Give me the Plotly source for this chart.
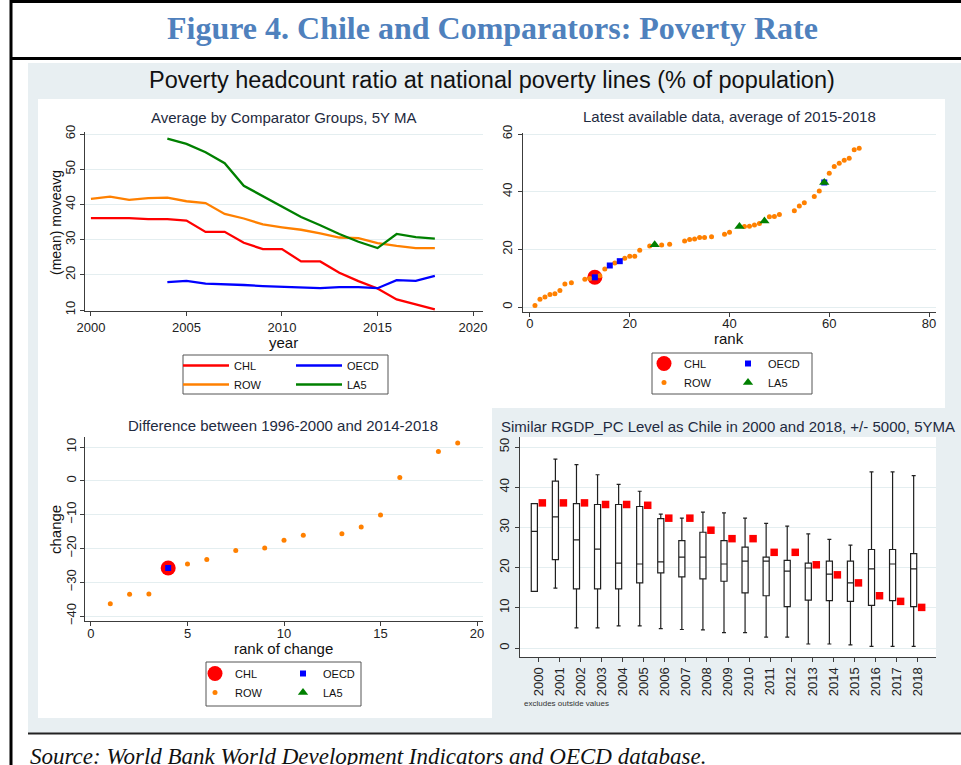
import plotly.graph_objects as go

# ---------------- data ----------------
years = list(range(2000, 2019))
chl_ma = [36.1, 36.1, 36.1, 35.8, 35.8, 35.4, 32.2, 32.2, 29.1, 27.3, 27.3, 23.8, 23.8, 20.6, 18.2, 16.1, 13.0, 11.6, 10.2]
row_ma = [41.6, 42.2, 41.3, 41.8, 41.9, 40.9, 40.4, 37.3, 36.0, 34.3, 33.5, 32.8, 31.8, 30.6, 30.4, 29.0, 28.2, 27.6, 27.6]
years_grp = list(range(2004, 2019))
oecd_ma = [17.9, 18.3, 17.5, 17.4, 17.1, 16.8, 16.6, 16.2, 16.2, 16.5, 16.5, 16.2, 18.5, 18.3, 19.7]
la5_ma = [58.7, 57.2, 54.8, 51.7, 45.3, 42.3, 39.2, 36.4, 34.1, 31.6, 29.4, 27.6, 31.6, 30.7, 30.3]

# latest available data, average 2015-2018
row_rank = [1, 2, 3, 4, 5, 6, 7, 8.3, 11, 12, 14, 15, 17, 19, 20, 21, 22, 24, 26.4, 28, 31, 32, 33, 34, 35,
            36.4, 39, 40, 43, 44, 45, 46, 48, 49, 50, 53, 54, 55, 57, 58, 60, 61, 62, 63, 64, 65, 66]
row_lvl = [0.5, 2.7, 3.5, 4.3, 4.6, 5.7, 8.0, 8.4, 9.6, 9.9, 10.8, 13.2, 15.3, 16.9, 17.6, 17.6, 19.7, 21.2,
           21.5, 21.8, 22.9, 23.4, 23.6, 24.1, 24.1, 24.4, 25.2, 25.9, 27.9, 28.0, 28.4, 29.0, 31.3, 31.4,
           32.1, 33.4, 35.0, 36.2, 38.3, 40.2, 46.4, 48.7, 49.9, 50.9, 51.6, 54.5, 55.1]
chl_rank = [13]
chl_lvl = [10.3]
oecd_rank = [13, 16, 18, 59]
oecd_lvl = [10.3, 14.4, 15.9, 43.2]
la5_rank = [25, 42, 47, 59]
la5_lvl = [21.6, 27.9, 29.8, 43.2]

# difference between 1996-2000 and 2014-2018
chg_row_rank = [1, 2, 3, 5, 6, 7.5, 9, 10, 11, 13, 14, 15, 16, 18, 19]
chg_row_val = [-36.4, -33.6, -33.5, -24.6, -23.3, -20.6, -19.9, -17.6, -16.1, -15.7, -13.7, -10.1, 1.0, 8.7, 11.2]
chg_chl_rank = [4]
chg_chl_val = [-25.8]
chg_oecd_rank = [4]
chg_oecd_val = [-25.8]
chg_la5_rank = [None]   # no LA5 observation in this panel (legend entry only)
chg_la5_val = [None]

# similar RGDP_PC level box plots
box_years = [str(y) for y in range(2000, 2019)]
box_lo = [14.1, 14.9, 5.0, 5.0, 5.5, 5.5, 4.8, 4.6, 4.5, 3.8, 3.8, 2.7, 2.7, 1.0, 1.0, 0.8, 0.4, 0.4, 0.4]
box_q1 = [14.1, 22.0, 14.7, 14.7, 14.7, 16.2, 18.7, 17.7, 17.2, 16.6, 13.7, 13.0, 10.3, 11.9, 11.8, 11.6, 10.6, 11.8, 10.3]
box_med = [29.0, 32.6, 26.9, 24.6, 21.1, 20.9, 21.4, 22.6, 22.6, 20.9, 21.6, 21.6, 19.1, 19.9, 18.4, 16.2, 19.7, 20.9, 19.7]
box_q3 = [35.9, 41.5, 35.9, 35.7, 35.7, 35.2, 32.2, 26.7, 28.8, 26.7, 25.1, 22.6, 21.8, 21.1, 21.6, 21.6, 24.5, 24.5, 23.5]
box_hi = [35.9, 47.0, 45.6, 43.1, 40.7, 39.0, 33.3, 32.3, 33.8, 33.6, 32.3, 31.0, 30.3, 28.4, 27.0, 25.6, 43.8, 43.8, 42.9]
box_chl = [36.1, 36.1, 36.1, 35.7, 35.7, 35.5, 32.3, 32.3, 29.3, 27.2, 27.2, 23.8, 23.8, 20.7, 18.2, 16.2, 13.0, 11.6, 10.1]

# ---------------- styling ----------------
W, H = 961, 765
FONT = "Liberation Sans"
RED, ORANGE, BLUE, GREEN = "#ff0000", "#ff8000", "#0000ff", "#008000"
AX = "#3c3c3c"
GRID = "#e4eef0"
BG = "#e8eff2"
TCOL = "#1e2a40"


def fx(px):
    return px / W


def fy(py):
    return 1 - py / H


fig = go.Figure()

# ---- panel 1: lines ----
fig.add_trace(go.Scatter(x=years, y=chl_ma, mode="lines", name="CHL", line=dict(color=RED, width=2.3),
                         xaxis="x", yaxis="y", legend="legend"))
fig.add_trace(go.Scatter(x=years, y=row_ma, mode="lines", name="ROW", line=dict(color=ORANGE, width=2.3),
                         xaxis="x", yaxis="y", legend="legend"))
fig.add_trace(go.Scatter(x=years_grp, y=oecd_ma, mode="lines", name="OECD", line=dict(color=BLUE, width=2.3),
                         xaxis="x", yaxis="y", legend="legend2"))
fig.add_trace(go.Scatter(x=years_grp, y=la5_ma, mode="lines", name="LA5", line=dict(color=GREEN, width=2.3),
                         xaxis="x", yaxis="y", legend="legend2"))

# ---- panel 2: latest ----
fig.add_trace(go.Scatter(x=chl_rank, y=chl_lvl, mode="markers", name="CHL",
                         marker=dict(color=RED, size=15, symbol="circle"),
                         xaxis="x2", yaxis="y2", legend="legend3"))
fig.add_trace(go.Scatter(x=row_rank, y=row_lvl, mode="markers", name="ROW",
                         marker=dict(color=ORANGE, size=5, symbol="circle"),
                         xaxis="x2", yaxis="y2", legend="legend3"))
fig.add_trace(go.Scatter(x=oecd_rank, y=oecd_lvl, mode="markers", name="OECD",
                         marker=dict(color=BLUE, size=6, symbol="square"),
                         xaxis="x2", yaxis="y2", legend="legend4"))
fig.add_trace(go.Scatter(x=la5_rank, y=la5_lvl, mode="markers", name="LA5",
                         marker=dict(color=GREEN, size=9, symbol="triangle-up"),
                         xaxis="x2", yaxis="y2", legend="legend4"))

# ---- panel 3: change ----
fig.add_trace(go.Scatter(x=chg_chl_rank, y=chg_chl_val, mode="markers", name="CHL",
                         marker=dict(color=RED, size=15, symbol="circle"),
                         xaxis="x3", yaxis="y3", legend="legend5"))
fig.add_trace(go.Scatter(x=chg_row_rank, y=chg_row_val, mode="markers", name="ROW",
                         marker=dict(color=ORANGE, size=5, symbol="circle"),
                         xaxis="x3", yaxis="y3", legend="legend5"))
fig.add_trace(go.Scatter(x=chg_oecd_rank, y=chg_oecd_val, mode="markers", name="OECD",
                         marker=dict(color=BLUE, size=6, symbol="square"),
                         xaxis="x3", yaxis="y3", legend="legend6"))
fig.add_trace(go.Scatter(x=chg_la5_rank, y=chg_la5_val, mode="markers", name="LA5",
                         marker=dict(color=GREEN, size=9, symbol="triangle-up"),
                         xaxis="x3", yaxis="y3", legend="legend6"))

# ---- panel 4: box plots ----
pos = list(range(len(box_years)))
fig.add_trace(go.Box(x=[p - 0.19 for p in pos], q1=box_q1, median=box_med, q3=box_q3,
                     lowerfence=box_lo, upperfence=box_hi, width=0.29, whiskerwidth=0.65,
                     fillcolor="white", line=dict(color="#202020", width=1.2),
                     showlegend=False, xaxis="x4", yaxis="y4", hoverinfo="skip"))
fig.add_trace(go.Scatter(x=[p + 0.19 for p in pos], y=box_chl, mode="markers",
                         marker=dict(color=RED, size=7.5, symbol="square"),
                         showlegend=False, xaxis="x4", yaxis="y4"))

# ---------------- axes ----------------
def xax(domain, rng, tickvals, anchor, ticktext=None, angle=0, size=13, standoff=0):
    d = dict(domain=domain, range=rng, tickmode="array", tickvals=tickvals, anchor=anchor,
             showline=True, linecolor=AX, linewidth=1.2, ticks="outside", ticklen=4, tickwidth=1,
             tickcolor=AX, tickfont=dict(family=FONT, size=size, color="#222"), zeroline=False,
             showgrid=False, automargin=False, fixedrange=True, tickangle=angle,
             ticklabelstandoff=standoff)
    if ticktext is not None:
        d["ticktext"] = ticktext
    return d


def yax(domain, rng, tickvals, anchor, size=13, standoff=1):
    return dict(domain=domain, range=rng, tickmode="array", tickvals=tickvals, anchor=anchor,
                showline=True, linecolor=AX, linewidth=1.2, ticks="outside", ticklen=4, tickwidth=1,
                tickcolor=AX, tickfont=dict(family=FONT, size=size, color="#222"), zeroline=False,
                showgrid=True, gridcolor=GRID, gridwidth=1, automargin=False, fixedrange=True,
                tickangle=-90, ticklabelstandoff=standoff)


layout_axes = dict(
    xaxis=xax([fx(85), fx(483)], [1999.69, 2020.52], [2000, 2005, 2010, 2015, 2020], "y"),
    yaxis=yax([fy(311), fy(132)], [9.72, 60.57], [10, 20, 30, 40, 50, 60], "x", standoff=0),
    xaxis2=xax([fx(523), fx(936)], [-1.4, 81.4], [0, 20, 40, 60, 80], "y2", standoff=-5),
    yaxis2=yax([fy(312), fy(133)], [-1.73, 60.35], [0, 20, 40, 60], "x2"),
    xaxis3=xax([fx(85), fx(483)], [-0.31, 20.31], [0, 5, 10, 15, 20], "y3", standoff=-4),
    yaxis3=yax([fy(621), fy(437)], [-41.48, 12.96], [-40, -30, -20, -10, 0, 10], "x3", standoff=-1),
    xaxis4=xax([fx(520), fx(936)], [-0.87, 18.87], pos, "y4", ticktext=box_years, angle=-90, size=13),
    yaxis4=yax([fy(657), fy(437)], [-2.24, 52.49], [0, 10, 20, 30, 40, 50], "x4"),
)

# ---------------- shapes ----------------
def rect(x0, y0, x1, y1, fill, line_color=None, lw=0, layer="below"):
    return dict(type="rect", xref="paper", yref="paper", x0=fx(x0), x1=fx(x1), y0=fy(y1), y1=fy(y0),
                fillcolor=fill, line=dict(color=line_color or fill, width=lw), layer=layer)


def hline(x0, x1, y, color="black", w=3):
    return dict(type="line", xref="paper", yref="paper", x0=fx(x0), x1=fx(x1), y0=fy(y), y1=fy(y),
                line=dict(color=color, width=w), layer="above")


shapes = [
    rect(28, 63, 961, 733, BG),
    rect(38, 99, 945, 408, "white"),
    rect(38, 408, 492, 718, "white"),
    rect(520, 437, 936, 657, "white"),
    rect(183, 355, 388, 394, "white", "#555555", 1),
    rect(652, 353, 812, 394, "white", "#555555", 1),
    rect(206, 662, 361, 706, "white", "#555555", 1),
    hline(10, 961, 1.5),
    hline(10, 961, 58.5),
    hline(28, 961, 733.5, "#222222", 2),
    dict(type="line", xref="paper", yref="paper", x0=fx(11), x1=fx(11), y0=0, y1=1,
         line=dict(color="black", width=3), layer="above"),
]

# ---------------- annotations ----------------
def ann(text, x, y, size, color="#111111", family=FONT, xanchor="center", angle=0):
    return dict(text=text, x=fx(x), y=fy(y), xref="paper", yref="paper", showarrow=False,
                xanchor=xanchor, yanchor="middle", textangle=angle,
                font=dict(family=family, size=size, color=color))


annotations = [
    ann("<b>Figure 4. Chile and Comparators: Poverty Rate</b>", 493, 28, 32, "#4f81bd", "Liberation Serif"),
    ann("Poverty headcount ratio at national poverty lines (% of population)", 492, 80, 23.5, "#111111"),
    ann("Average by Comparator Groups, 5Y MA", 283, 117, 15, TCOL),
    ann("Latest available data, average of 2015-2018", 729, 116, 15, TCOL),
    ann("Difference between 1996-2000 and 2014-2018", 283, 425, 15, TCOL),
    ann("Similar RGDP_PC Level as Chile in 2000 and 2018, +/- 5000, 5YMA", 728, 426, 15, TCOL),
    ann("year", 283, 342, 15),
    ann("(mean) moveavg", 56, 223, 14, angle=-90),
    ann("rank", 729, 338, 15),
    ann("change", 55, 530, 15, angle=-90),
    ann("rank of change", 283, 648, 15),
    ann("excludes outside values", 522, 703, 8, "#333333", xanchor="left"),
    ann("<i>Source: World Bank World Development Indicators and OECD database.</i>", 28, 756, 23,
        "#111111", "Liberation Serif", xanchor="left"),
]

# ---------------- legends ----------------
def leg(x, y, itemwidth=30):
    return dict(x=fx(x), y=fy(y), xref="paper", yref="paper", xanchor="left", yanchor="top",
                orientation="v", bgcolor="rgba(0,0,0,0)", borderwidth=0, itemwidth=itemwidth,
                font=dict(family=FONT, size=11, color="#111111"), tracegroupgap=0)


fig.update_layout(
    width=W, height=H, margin=dict(l=0, r=0, t=0, b=0), autosize=False,
    paper_bgcolor="white", plot_bgcolor="rgba(0,0,0,0)", template="none",
    showlegend=True,
    shapes=shapes, annotations=annotations,
    legend=leg(178, 351, 46), legend2=leg(291, 351, 46),
    legend3=leg(644, 349), legend4=leg(728, 349),
    legend5=leg(195, 659), legend6=leg(283, 659),
    **layout_axes,
)

fig.write_html("out.html", config={"displayModeBar": False},
               post_script="document.body.style.margin='0';document.body.style.overflow='hidden';")
